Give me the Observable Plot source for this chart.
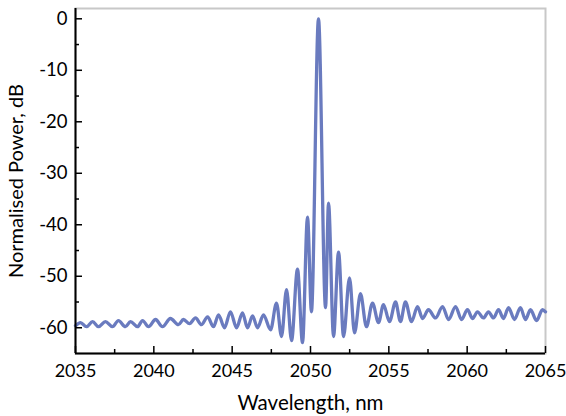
<!DOCTYPE html>
<html>
<head>
<meta charset="utf-8">
<script src="https://cdn.jsdelivr.net/npm/d3@7"></script>
<script src="https://cdn.jsdelivr.net/npm/@observablehq/plot@0.6"></script>
<style>
  html, body { margin: 0; padding: 0; background: #fff; }
  #chart { width: 566px; height: 416px; }
</style>
</head>
<body>
<div id="chart"></div>
<script>
const wavelength = [2035.00, 2035.32, 2035.70, 2036.09, 2036.47, 2036.91, 2037.36, 2037.74, 2038.19, 2038.51,
  2038.96, 2039.28, 2039.66, 2040.11, 2040.55, 2041.06, 2041.57, 2041.89, 2042.28, 2042.66,
  2043.04, 2043.43, 2043.81, 2044.13, 2044.51, 2044.89, 2045.28, 2045.66, 2045.98, 2046.30,
  2046.62, 2047.00, 2047.45, 2047.83, 2048.15, 2048.47, 2048.79, 2049.17, 2049.49, 2049.81,
  2050.06, 2050.51, 2050.96, 2051.15, 2051.47, 2051.79, 2052.11, 2052.49, 2052.81, 2053.19,
  2053.57, 2053.96, 2054.34, 2054.66, 2055.04, 2055.43, 2055.74, 2056.06, 2056.45, 2056.83,
  2057.15, 2057.53, 2057.98, 2058.43, 2058.81, 2059.26, 2059.64, 2060.02, 2060.34, 2060.66,
  2061.04, 2061.36, 2061.68, 2062.00, 2062.32, 2062.64, 2063.02, 2063.40, 2063.72, 2064.04,
  2064.43, 2064.81, 2065.00];
const power = [-59.6, -59.0, -59.8, -58.8, -59.8, -58.8, -59.8, -58.6, -59.8, -58.8,
  -59.8, -58.6, -59.8, -58.4, -59.8, -58.2, -59.4, -58.4, -59.2, -58.1,
  -59.4, -57.9, -59.8, -57.5, -60.0, -56.9, -60.0, -57.1, -60.0, -57.7,
  -60.0, -57.5, -60.4, -55.2, -61.7, -52.6, -62.5, -48.6, -62.9, -38.5,
  -56.9, 0.0, -56.1, -35.8, -61.7, -45.3, -61.7, -50.3, -61.0, -53.4,
  -59.8, -55.2, -59.0, -55.5, -58.8, -55.0, -58.8, -55.0, -58.8, -55.9,
  -58.2, -56.5, -58.1, -55.9, -58.4, -55.9, -58.4, -56.5, -58.2, -56.9,
  -58.1, -56.9, -58.1, -56.5, -58.2, -56.1, -58.4, -56.1, -58.4, -56.5,
  -58.6, -56.5, -56.9];

const xTicks = [2035, 2040, 2045, 2050, 2055, 2060, 2065];
const xMinor = [2037.5, 2042.5, 2047.5, 2052.5, 2057.5, 2062.5];
const yTicks = [0, -10, -20, -30, -40, -50, -60];
const yMinor = [-5, -15, -25, -35, -45, -55];
const xLabel = "Wavelength, nm";
const yLabel = "Normalised Power, dB";

const data = wavelength.map((w, i) => ({w, p: power[i]}));

const W = 566, H = 416, mL = 75, mR = 21, mT = 8, mB = 63;
const innerH = H - mT - mB, innerW = W - mL - mR;

const chart = Plot.plot({
  width: W,
  height: H,
  marginLeft: mL,
  marginRight: mR,
  marginTop: mT,
  marginBottom: mB,
  style: {fontFamily: "Lato, 'Open Sans', sans-serif", fontSize: "18px", color: "#000", background: "#fff"},
  x: {domain: [2035, 2065]},
  y: {domain: [-65, 2]},
  marks: [
    Plot.frame({stroke: "#c8c8c8", strokeWidth: 2}),
    Plot.line(data, {x: "w", y: "p", stroke: "#6a7bbf", strokeWidth: 3.3, curve: "monotone-x"}),
    Plot.ruleY([-65], {stroke: "#000", strokeWidth: 2}),
    Plot.ruleX([2035], {stroke: "#000", strokeWidth: 2}),
    Plot.tickX(xTicks, {x: d => d, stroke: "#000", strokeWidth: 1.5, insetTop: innerH - 7}),
    Plot.tickX(xMinor, {x: d => d, stroke: "#000", strokeWidth: 1.5, insetTop: innerH - 4}),
    Plot.tickY(yTicks, {y: d => d, stroke: "#000", strokeWidth: 1.5, insetRight: innerW - 7}),
    Plot.tickY(yMinor, {y: d => d, stroke: "#000", strokeWidth: 1.5, insetRight: innerW - 4}),
    Plot.axisX({ticks: xTicks, tickSize: 0, tickPadding: 11, tickFormat: d => String(d),
      label: null, fontSize: 18}),
    Plot.axisX({ticks: [], tickSize: 0, label: xLabel, labelAnchor: "center", labelOffset: 56,
      labelArrow: "none", fontSize: 20.5}),
    Plot.axisY({ticks: yTicks, tickSize: 0, tickPadding: 8, tickFormat: d => String(d),
      label: null, fontSize: 18.5}),
    Plot.axisY({ticks: [], tickSize: 0, label: yLabel, labelAnchor: "center", labelOffset: 67,
      labelArrow: "none", fontSize: 20})
  ]
});
document.getElementById("chart").appendChild(chart);
</script>
</body>
</html>
